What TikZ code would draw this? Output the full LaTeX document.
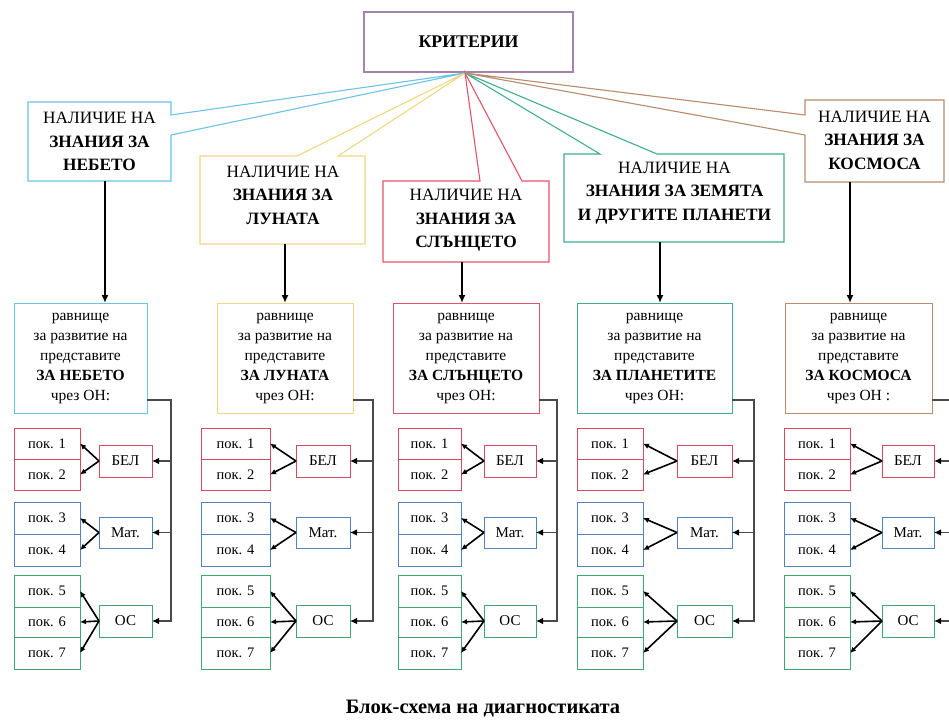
\documentclass[tikz,border=0pt]{standalone}
\usepackage{fontspec}
\setmainfont{Liberation Serif}
\usetikzlibrary{arrows.meta,calc}
\definecolor{cyanc}{HTML}{6CC4E4}
\definecolor{yellc}{HTML}{F0D882}
\definecolor{redc}{HTML}{E45468}
\definecolor{greenc}{HTML}{3FAE8C}
\definecolor{brownc}{HTML}{B88C6C}
\definecolor{purpc}{HTML}{A484AC}
\definecolor{pokred}{HTML}{D94B5C}
\definecolor{pokblue}{HTML}{5582C0}
\definecolor{pokgreen}{HTML}{3DAA72}
\definecolor{connc}{HTML}{4A4A4A}
\newcommand\mkbox[7]{%
  \pgfmathsetmacro\mkcx{(#2+#4)/2}%
  \pgfmathsetmacro\mkcy{(#3+#5)/2}%
  \pgfmathsetmacro\mkbw{#4-#2}%
  \pgfmathsetmacro\mkbh{#5-#3}%
  \node[rectangle, outer sep=0pt, inner sep=0pt, minimum width=\mkbw pt, minimum height=\mkbh pt, #6] (#1) at (\mkcx,\mkcy) {#7};}
\begin{document}
\begin{tikzpicture}[x=1pt,y=-1pt,
  frame/.style={line width=1.1pt},
  toptext/.style={align=center, inner sep=0pt, font=\fontsize{17.3}{23.5}\selectfont},
  lowtext/.style={align=center, line width=1pt, font=\fontsize{15.5}{20}\selectfont},
  pokcell/.style={line width=1pt, font=\fontsize{14.5}{17}\selectfont},
  smallbox/.style={line width=1pt, font=\fontsize{15}{17}\selectfont},
  downarr/.style={line width=1.8pt, -{Latex[length=8pt,width=7pt]}},
  fanarr/.style={line width=1.6pt, -{Latex[length=6pt,width=5.5pt]}},
  conn/.style={line width=1.1pt, draw=connc, -{Latex[length=7pt,width=6.5pt,color=black]}},
]
\useasboundingbox (0,0) rectangle (949,722);
\fill[white] (0,0) rectangle (949,722);

% criteria box
\mkbox{krit}{364}{12}{573}{72}{draw=purpc, frame, font=\bfseries\fontsize{17.8}{20}\selectfont}{КРИТЕРИИ}
\coordinate (apex) at (465,73);

% top callout frames (invisible nodes give the box geometry)
\mkbox{b1}{28}{102}{171}{181}{}{}
\mkbox{b2}{200}{156}{365}{244}{}{}
\mkbox{b3}{383}{181}{549}{262}{}{}
\mkbox{b4}{564}{154}{784}{242}{}{}
\mkbox{b5}{805}{100}{944}{182}{}{}

\draw[frame, cyanc] (b1.north west) -- (b1.north east) -- ([yshift=-13pt]b1.north east) -- (apex)
  -- ([yshift=-33pt]b1.north east) -- (b1.south east) -- (b1.south west) -- cycle;
\draw[frame, yellc] (b2.north west) -- ([xshift=97pt]b2.north west) -- (apex) -- ([xshift=138pt]b2.north west)
  -- (b2.north east) -- (b2.south east) -- (b2.south west) -- cycle;
\draw[frame, redc] (b3.north west) -- ([xshift=97pt]b3.north west) -- (apex) -- ([xshift=139pt]b3.north west)
  -- (b3.north east) -- (b3.south east) -- (b3.south west) -- cycle;
\draw[frame, greenc] (b4.north west) -- ([xshift=36pt]b4.north west) -- (apex) -- ([xshift=93pt]b4.north west)
  -- (b4.north east) -- (b4.south east) -- (b4.south west) -- cycle;
\draw[frame, brownc] (b5.north west) -- (b5.north east) -- (b5.south east) -- (b5.south west)
  -- ([yshift=-35pt]b5.north west) -- (apex) -- ([yshift=-15pt]b5.north west) -- cycle;

\node[toptext] (t1) at (99.5,141.5) {НАЛИЧИЕ НА\\\textbf{ЗНАНИЯ ЗА}\\\textbf{НЕБЕТО}};
\node[toptext] (t2) at (283,195) {НАЛИЧИЕ НА\\\textbf{ЗНАНИЯ ЗА}\\\textbf{ЛУНАТА}};
\node[toptext] (t3) at (466,220.5) {НАЛИЧИЕ НА\\\textbf{ЗНАНИЯ ЗА}\\\textbf{СЛЪНЦЕТО}};
\node[toptext] (t4) at (674.5,193) {НАЛИЧИЕ НА\\\textbf{ЗНАНИЯ ЗА ЗЕМЯТА}\\\textbf{И ДРУГИТЕ ПЛАНЕТИ}};
\node[toptext] (t5) at (874.5,140) {НАЛИЧИЕ НА\\\textbf{ЗНАНИЯ ЗА}\\\textbf{КОСМОСА}};

% lower columns
\foreach \c/\bl/\br/\pl/\pr/\sl/\sr/\vx/\ax/\colr/\txt/\tail in {
  1/14/147/14/80/99/152/171/105/cyanc/{ЗА НЕБЕТО}/{чрез ОН:},
  2/217/353/201/270/296/350/373/285/yellc/{ЗА ЛУНАТА}/{чрез ОН:},
  3/393/539/398/461/484/536/557/462/redc/{ЗА СЛЪНЦЕТО}/{чрез ОН:},
  4/577/732/577/643/677/732/754/660/greenc/{ЗА ПЛАНЕТИТЕ}/{чрез ОН:},
  5/785/932/784/850/882/934/960/850/brownc/{ЗА КОСМОСА}/{чрез ОН :}}
{
  \mkbox{L\c}{\bl}{303}{\br}{413}{lowtext, draw=\colr}{равнище\\за развитие на\\представите\\\textbf{\txt}\\\tail}
  \coordinate (A\c) at (\ax,0);
  \draw[downarr] (b\c.south -| A\c) -- (L\c.north -| A\c);

  \mkbox{P1\c}{\pl}{428}{\pr}{459}{pokcell, draw=pokred}{пок. 1}
  \mkbox{P2\c}{\pl}{459}{\pr}{490}{pokcell, draw=pokred}{пок. 2}
  \mkbox{P3\c}{\pl}{502}{\pr}{534}{pokcell, draw=pokblue}{пок. 3}
  \mkbox{P4\c}{\pl}{534}{\pr}{566}{pokcell, draw=pokblue}{пок. 4}
  \mkbox{P5\c}{\pl}{575}{\pr}{607}{pokcell, draw=pokgreen}{пок. 5}
  \mkbox{P6\c}{\pl}{607}{\pr}{637}{pokcell, draw=pokgreen}{пок. 6}
  \mkbox{P7\c}{\pl}{637}{\pr}{669}{pokcell, draw=pokgreen}{пок. 7}

  \mkbox{B\c}{\sl}{445}{\sr}{477}{smallbox, draw=pokred}{БЕЛ}
  \mkbox{M\c}{\sl}{517}{\sr}{548}{smallbox, draw=pokblue}{Мат.}
  \mkbox{O\c}{\sl}{605}{\sr}{637}{smallbox, draw=pokgreen}{ОС}

  \draw[fanarr] (B\c.west) -- (P1\c.east);
  \draw[fanarr] (B\c.west) -- (P2\c.east);
  \draw[fanarr] (M\c.west) -- (P3\c.east);
  \draw[fanarr] (M\c.west) -- (P4\c.east);
  \draw[fanarr] (O\c.west) -- (P5\c.east);
  \draw[fanarr] (O\c.west) -- (P6\c.east);
  \draw[fanarr] (O\c.west) -- (P7\c.east);

  \coordinate (V\c) at (\vx,0);
  \draw[conn] ([yshift=13pt]L\c.south east) -| (O\c.east -| V\c) -- (O\c.east);
  \draw[conn] (B\c.east -| V\c) -- (B\c.east);
  \draw[conn] (M\c.east -| V\c) -- (M\c.east);
}

\node[font=\bfseries\fontsize{20.5}{24}\selectfont] (cap) at (483,709) {Блок-схема на диагностиката};
\end{tikzpicture}
\end{document}
